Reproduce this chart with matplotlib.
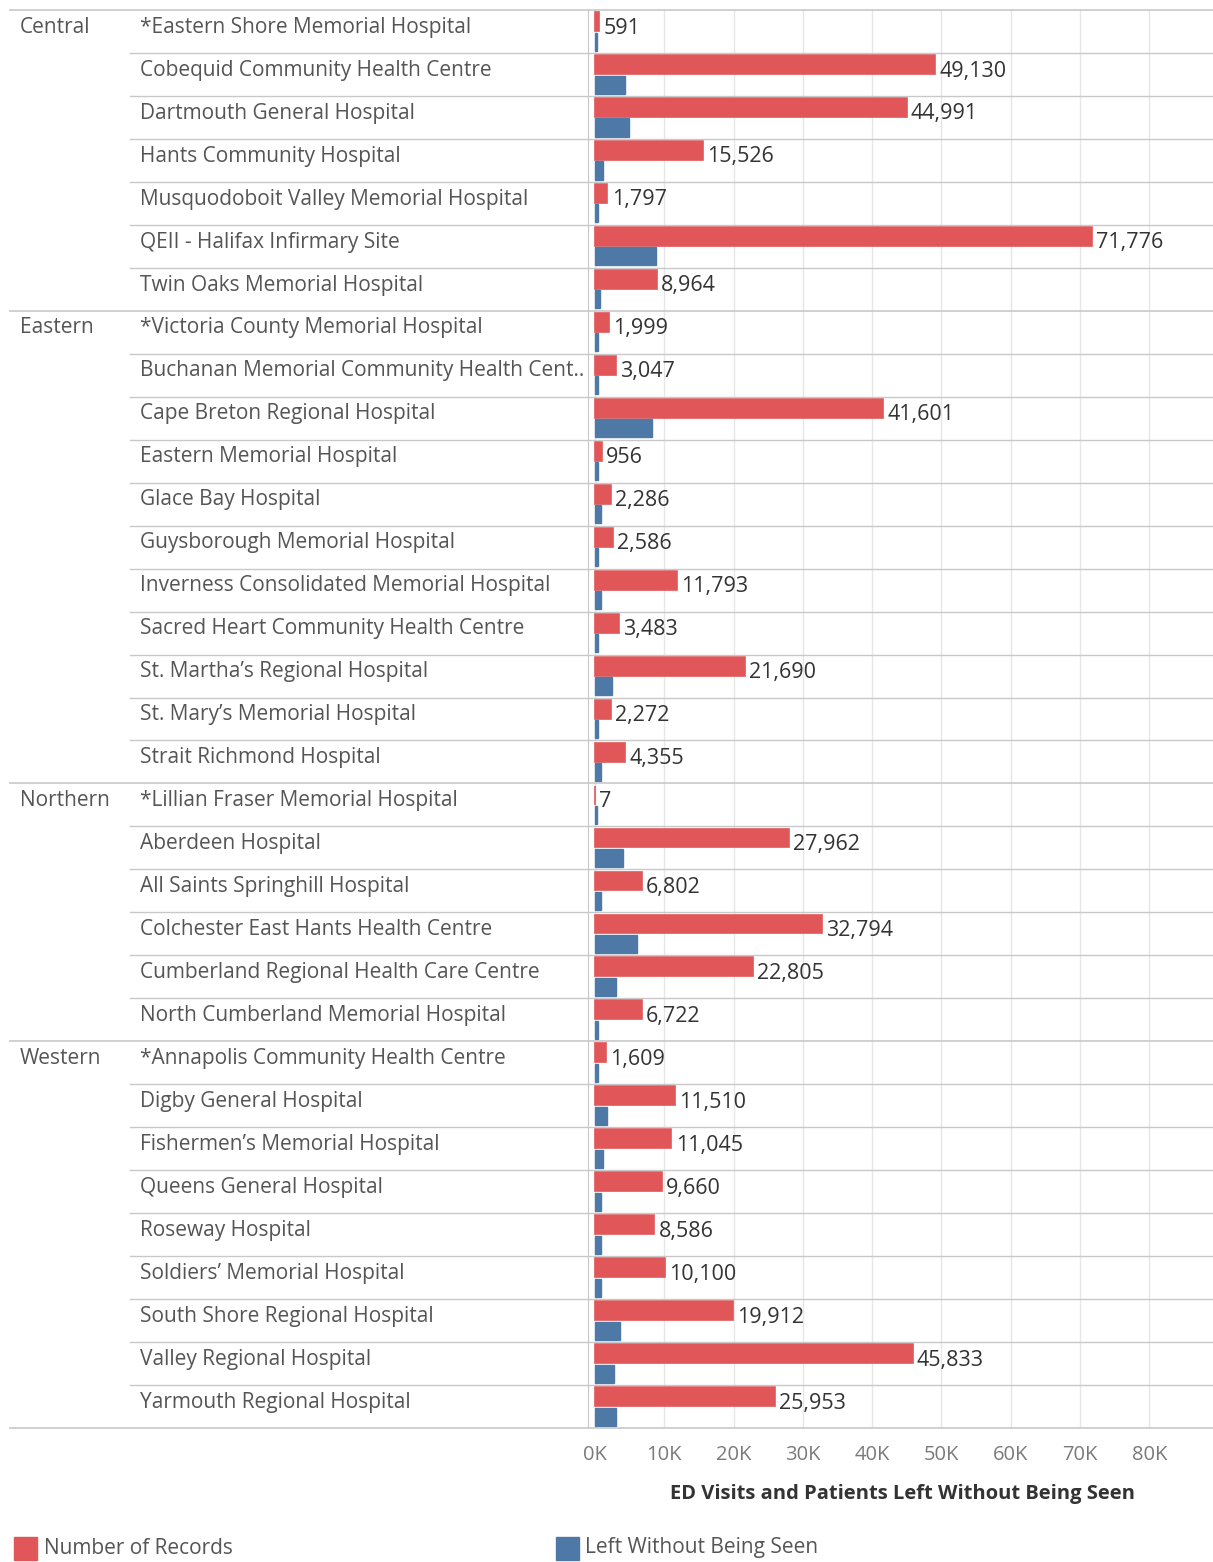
import numpy as np
import matplotlib.pyplot as plt
from matplotlib.patches import Rectangle
from matplotlib.transforms import blended_transform_factory

plt.rcParams['font.family'] = ['Open Sans', 'DejaVu Sans']

regions = ['Central', 'Eastern', 'Northern', 'Western']

central = ['*Eastern Shore Memorial Hospital', 'Cobequid Community Health Centre',
           'Dartmouth General Hospital', 'Hants Community Hospital',
           'Musquodoboit Valley Memorial Hospital', 'QEII - Halifax Infirmary Site',
           'Twin Oaks Memorial Hospital']
eastern = ['*Victoria County Memorial Hospital', 'Buchanan Memorial Community Health Cent..',
           'Cape Breton Regional Hospital', 'Eastern Memorial Hospital', 'Glace Bay Hospital',
           'Guysborough Memorial Hospital', 'Inverness Consolidated Memorial Hospital',
           'Sacred Heart Community Health Centre', 'St. Martha\u2019s Regional Hospital',
           'St. Mary\u2019s Memorial Hospital', 'Strait Richmond Hospital']
northern = ['*Lillian Fraser Memorial Hospital', 'Aberdeen Hospital',
            'All Saints Springhill Hospital', 'Colchester East Hants Health Centre',
            'Cumberland Regional Health Care Centre', 'North Cumberland Memorial Hospital']
western = ['*Annapolis Community Health Centre', 'Digby General Hospital',
           'Fishermen\u2019s Memorial Hospital', 'Queens General Hospital', 'Roseway Hospital',
           'Soldiers\u2019 Memorial Hospital', 'South Shore Regional Hospital',
           'Valley Regional Hospital', 'Yarmouth Regional Hospital']

records_central = [591, 49130, 44991, 15526, 1797, 71776, 8964]
records_eastern = [1999, 3047, 41601, 956, 2286, 2586, 11793, 3483, 21690, 2272, 4355]
records_northern = [7, 27962, 6802, 32794, 22805, 6722]
records_western = [1609, 11510, 11045, 9660, 8586, 10100, 19912, 45833, 25953]

# left without being seen
lwbs_central = [350, 4400, 4900, 1200, 400, 8800, 800]
lwbs_eastern = [400, 400, 8200, 400, 900, 500, 900, 500, 2500, 500, 900]
lwbs_northern = [300, 4000, 900, 6000, 3000, 500]
lwbs_western = [400, 1800, 1200, 900, 900, 900, 3600, 2700, 3000]

xticks = [0, 10000, 20000, 30000, 40000, 50000, 60000, 70000, 80000]
xtick_labels = ['0K', '10K', '20K', '30K', '40K', '50K', '60K', '70K', '80K']

groups = [central, eastern, northern, western]
hospitals = central + eastern + northern + western
records = np.array(records_central + records_eastern + records_northern + records_western)
lwbs = np.array(lwbs_central + lwbs_eastern + lwbs_northern + lwbs_western)
y = np.arange(len(hospitals))

red = '#e15759'
blue = '#4e79a7'
line_c = '#c8c8c8'

#----------------
fig = plt.figure(figsize=(12.13, 15.62), dpi=100)
ax = fig.add_axes([588/1213, 1 - 1428/1562, 1 - 588/1213, (1428 - 10)/1562])

ax.barh(y - 0.23, records, height=0.44, color=red, edgecolor=red, linewidth=1.2)
ax.barh(y + 0.235, lwbs, height=0.42, color=blue, edgecolor=blue, linewidth=1.0)

for yi, v in zip(y, records):
    ax.annotate(f'{v:,}', (v, yi - 0.08), xytext=(3, 0), textcoords='offset points',
                va='center', ha='left', fontsize=15.5, color='#333333')

ax.set_xlim(-1000, 89200)
ax.set_ylim(len(hospitals) - 0.5, -0.5)
ax.set_xticks(xticks)
ax.set_xticklabels(xtick_labels, fontsize=14.5, color='#7a7a7a')
ax.tick_params(axis='x', length=0, pad=12)
ax.set_yticks([])
ax.grid(axis='x', color='#e6e6e6', linewidth=1)
ax.set_axisbelow(True)
for s in ['top', 'right', 'bottom']:
    ax.spines[s].set_visible(False)
ax.spines['left'].set_color(line_c)

# row labels and separators
tr = blended_transform_factory(fig.transFigure, ax.transData)
start = 0
for reg, grp in zip(regions, groups):
    ax.text(20/1213, start - 0.1, reg, transform=tr, fontsize=15, color='#555555', va='center')
    for k, name in enumerate(grp):
        ax.text(140/1213, start + k - 0.1, name, transform=tr, fontsize=15,
                color='#555555', va='center')
        if k > 0:
            ax.plot([130/1213, 1], [start + k - 0.5] * 2, transform=tr, color=line_c,
                    linewidth=1, clip_on=False)
    ax.plot([10/1213, 1], [start - 0.5] * 2, transform=tr, color=line_c,
            linewidth=1.2, clip_on=False)
    start += len(grp)
ax.plot([10/1213, 1], [start - 0.5] * 2, transform=tr, color=line_c,
        linewidth=1.2, clip_on=False)

fig.text(902/1213, 1 - 1494/1562, 'ED Visits and Patients Left Without Being Seen',
         ha='center', va='center', fontsize=14.5, fontweight='bold', color='#333333')

# legend
fig.add_artist(Rectangle((14/1213, 1 - 1560/1562), 23/1213, 23/1562,
                         transform=fig.transFigure, color=red))
fig.text(44/1213, 1 - 1548/1562, 'Number of Records', va='center', fontsize=15, color='#555555')
fig.add_artist(Rectangle((556/1213, 1 - 1560/1562), 23/1213, 23/1562,
                         transform=fig.transFigure, color=blue))
fig.text(585/1213, 1 - 1548/1562, 'Left Without Being Seen', va='center', fontsize=15,
         color='#555555')

fig.savefig('out.png', dpi=100)
